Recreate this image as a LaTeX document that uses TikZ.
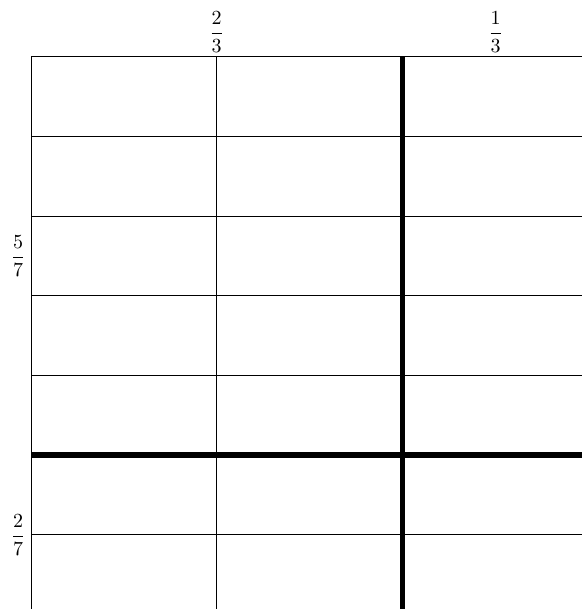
\documentclass[tikz,border=0pt]{standalone}
\tikzset{
  thin grid/.style={line width=0.5pt, black},
  thick split/.style={line width=2.6pt, black},
  frac label/.style={inner sep=0pt}
}
\begin{document}
\begin{tikzpicture}[x=0.5pt,y=-0.5pt]
\useasboundingbox (0,0) rectangle (582,609);
\begin{scope}
\clip (0,0) rectangle (582,609);
% outer frame and thin lines
\foreach \yy in {57,136.6,216.2,295.8,375.4,534.6,614.2}
  \draw[thin grid] (31,\yy) -- (588,\yy);
\foreach \xx in {31,216.7,588}
  \draw[thin grid] (\xx,57) -- (\xx,614.2);
% thick splits
\draw[thick split] (31,455) -- (588,455);
\draw[thick split] (402.3,57) -- (402.3,614.2);
\end{scope}
% labels
\node[frac label] (c1) at (216.7,32) {$\displaystyle\frac{2}{3}$};
\node[frac label] (c2) at (495.5,32) {$\displaystyle\frac{1}{3}$};
\node[frac label] (r1) at (18,256) {$\displaystyle\frac{5}{7}$};
\node[frac label] (r2) at (18,535) {$\displaystyle\frac{2}{7}$};
\end{tikzpicture}
\end{document}
